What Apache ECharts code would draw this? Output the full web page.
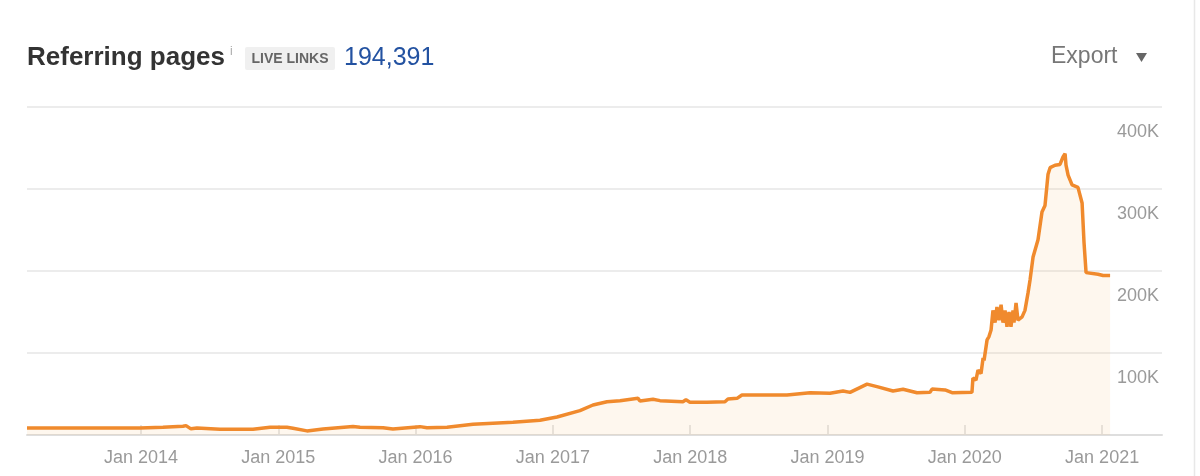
<!DOCTYPE html>
<html>
<head>
<meta charset="utf-8">
<script src="https://cdn.jsdelivr.net/npm/echarts@6/dist/echarts.min.js"></script>
<style>
html,body{margin:0;padding:0;background:#fff;}
#chart{width:1200px;height:476px;}
</style>
</head>
<body>
<div id="chart"></div>
<script>
// Decimal years of each sample
var years = [
  2013.170, 2013.993, 2014.160, 2014.306, 2014.328, 2014.364, 2014.408, 2014.575, 2014.816, 2014.940,
  2015.063, 2015.107, 2015.209, 2015.326, 2015.544, 2015.595, 2015.763, 2015.835, 2016.032, 2016.083,
  2016.229, 2016.418, 2016.709, 2016.906, 2017.030, 2017.197, 2017.292, 2017.394, 2017.489, 2017.620,
  2017.634, 2017.729, 2017.780, 2017.947, 2017.969, 2017.998, 2018.122, 2018.253, 2018.275, 2018.341,
  2018.377, 2018.508, 2018.705, 2018.873, 2019.018, 2019.113, 2019.164, 2019.288, 2019.360, 2019.477,
  2019.550, 2019.652, 2019.746, 2019.761, 2019.856, 2019.907, 2020.052, 2020.059, 2020.081, 2020.096,
  2020.118, 2020.133, 2020.140, 2020.162, 2020.176, 2020.191, 2020.205, 2020.220, 2020.234, 2020.249,
  2020.264, 2020.278, 2020.293, 2020.307, 2020.322, 2020.336, 2020.351, 2020.358, 2020.373, 2020.387,
  2020.417, 2020.438, 2020.460, 2020.475, 2020.497, 2020.533, 2020.562, 2020.584, 2020.606, 2020.621,
  2020.657, 2020.693, 2020.715, 2020.730, 2020.737, 2020.752, 2020.781, 2020.824, 2020.854, 2020.868,
  2020.883, 2020.970, 2021.007, 2021.058
];
// Referring pages (count)
var pages = [
  8500, 8500, 9400, 10600, 11400, 7500, 8500, 7000, 7000, 9400,
  9400, 8200, 5000, 7300, 10500, 9400, 8900, 7300, 10200, 8900,
  9400, 13000, 15500, 18000, 22000, 29700, 36600, 40600, 41900, 44700,
  41500, 43500, 41900, 40600, 43000, 40000, 39800, 40600, 43900, 44700,
  48800, 48800, 48800, 51500, 50800, 53700, 52000, 62000, 59000, 53700,
  55700, 51600, 52000, 56000, 55000, 51600, 52000, 69500, 67000, 79000,
  75000, 94000, 91000, 116000, 120000, 128000, 152000, 137000, 156000, 140000,
  159000, 137000, 152000, 132000, 150000, 132000, 152000, 137000, 161000, 140000,
  144000, 152000, 173000, 189000, 217000, 238000, 272000, 280000, 318000, 326000,
  329000, 330000, 339000, 343000, 329000, 317000, 305000, 302000, 283000, 235000,
  198000, 196000, 194500, 194391
];
var yearTicks = [2014, 2015, 2016, 2017, 2018, 2019, 2020, 2021];
var yTicks = [0, 100000, 200000, 300000, 400000];

var titleText = 'Referring pages';
var badgeText = 'LIVE LINKS';
var totalText = '194,391';
var exportText = 'Export';

var seriesData = years.map(function (y, i) { return [y, pages[i]]; });

var chart = echarts.init(document.getElementById('chart'), null, {renderer: 'canvas'});
var FONT = '"Liberation Sans", Arial, Helvetica, sans-serif';

chart.setOption({
  animation: false,
  backgroundColor: '#ffffff',
  grid: {left: 27, right: 38, top: 107, bottom: 41, containLabel: false},
  xAxis: {
    type: 'value',
    min: years[0],
    max: 2021.436,
    axisLine: {show: true, lineStyle: {color: '#dedede', width: 2}},
    axisTick: {show: true, inside: true, length: 10, customValues: yearTicks,
      lineStyle: {color: '#dedede', width: 1.5}},
    axisLabel: {show: true, customValues: yearTicks, margin: 14,
      color: '#9a9a9a', fontSize: 18, fontFamily: FONT,
      formatter: function (v) { return 'Jan ' + Math.round(v); }},
    splitLine: {show: false}
  },
  yAxis: {
    type: 'value',
    position: 'right',
    min: yTicks[0],
    max: yTicks[yTicks.length - 1],
    interval: yTicks[1] - yTicks[0],
    axisLine: {show: false},
    axisTick: {show: false},
    splitLine: {show: true, lineStyle: {color: '#e6e6e6', width: 1.5}},
    axisLabel: {
      show: true, inside: true, margin: 3, showMinLabel: false,
      verticalAlign: 'top', padding: [16, 0, 0, 0],
      color: '#9a9a9a', fontSize: 18, fontFamily: FONT,
      formatter: function (v) { return (v / 1000) + 'K'; }
    }
  },
  series: [{
    type: 'line',
    data: seriesData,
    showSymbol: false,
    smooth: false,
    lineStyle: {color: '#f08a2d', width: 3.5},
    areaStyle: {color: 'rgba(242,175,95,0.15)'},
    z: 3
  }],
  graphic: [
    {type: 'line', shape: {x1: 1194.5, y1: 0, x2: 1194.5, y2: 476},
      style: {stroke: '#e8e8e8', lineWidth: 1.5}, silent: true},
    {type: 'text', left: 27, top: 45,
      style: {text: titleText, fill: '#333333', font: 'bold 26px ' + FONT}},
    {type: 'text', left: 230, top: 46,
      style: {text: 'i', fill: '#aaaaaa', font: '12px ' + FONT}},
    {type: 'rect', shape: {x: 245, y: 47, width: 90, height: 23, r: 2},
      style: {fill: '#f0f0f0'}},
    {type: 'text', x: 290, y: 59,
      style: {text: badgeText, fill: '#666666', font: 'bold 14px ' + FONT,
        align: 'center', verticalAlign: 'middle'}},
    {type: 'text', left: 344, top: 46,
      style: {text: totalText, fill: '#2352a1', font: '25px ' + FONT}},
    {type: 'text', left: 1051, top: 45,
      style: {text: exportText, fill: '#777777', font: '23px ' + FONT}},
    {type: 'polygon', shape: {points: [[1136, 53], [1147, 53], [1141.5, 62]]},
      style: {fill: '#666666'}}
  ]
});
</script>
</body>
</html>
